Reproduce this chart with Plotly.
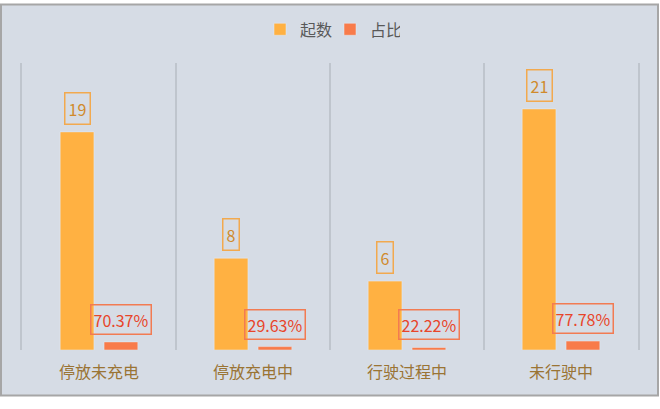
import plotly.graph_objects as go

# data
categories = ['停放未充电', '停放充电中', '行驶过程中', '未行驶中']
counts = [19, 8, 6, 21]
ratios = [0.7037, 0.2963, 0.2222, 0.7778]
ratio_labels = ['70.37%', '29.63%', '22.22%', '77.78%']

W, H = 660, 409
ml, mr, mt, mb = 22, 22, 60, 59
pw, ph = W - ml - mr, H - mt - mb
grid = '#BFC5CD'

fig = go.Figure()
fig.add_bar(x=categories, y=counts, name='起数', marker_color='#FFB142')
fig.add_bar(x=categories, y=ratios, name='占比', marker_color='#F87B4A')

# boxed value labels
for i, v in enumerate(counts):
    fig.add_annotation(x=i, y=v, xshift=-22, yshift=7, yanchor='bottom',
                       text=str(v), showarrow=False,
                       font=dict(size=16, color='#D08A2C'),
                       bordercolor='#F2A94E', borderwidth=1.5, borderpad=3)
for i, v in enumerate(ratios):
    fig.add_annotation(x=i, y=v, xshift=22, yshift=7, yanchor='bottom',
                       text=ratio_labels[i], showarrow=False,
                       font=dict(size=16, color='#E8452A'),
                       bordercolor='#F27B52', borderwidth=1.5, borderpad=2)

# chart area background + border
fig.add_shape(type='rect', xref='paper', yref='paper', layer='below',
              x0=-(ml - 1) / pw, x1=(W - ml - 2) / pw,
              y0=(H - mb - 396) / ph, y1=(H - mb - 1) / ph,
              fillcolor='#D6DCE5', line=dict(color='#A6A6A6', width=2))

fig.update_layout(
    width=W, height=H,
    margin=dict(l=ml, r=mr, t=mt, b=mb),
    paper_bgcolor='white', plot_bgcolor='rgba(0,0,0,0)',
    barmode='group', bargap=0.43, bargroupgap=0.23,
    font=dict(family='Noto Sans CJK SC, sans-serif'),
    showlegend=True,
    legend=dict(orientation='h', x=0.5, xanchor='center',
                y=(H - mb - 26) / ph, yanchor='middle',
                font=dict(size=16, color='#595959'),
                itemwidth=30, entrywidth=25, tracegroupgap=0,
                bgcolor='rgba(0,0,0,0)'),
)
fig.update_xaxes(type='category', tickson='boundaries', showgrid=True,
                 gridcolor=grid, gridwidth=1.5, ticks='',
                 showline=False, zeroline=False, ticklabelstandoff=11,
                 tickfont=dict(size=16, color='#9A7434'))
# y axis hidden, its mirrored line gives the outer vertical separators
fig.update_yaxes(range=[0, 25], showgrid=False, zeroline=False,
                 showticklabels=False, ticks='', showline=True, mirror=True,
                 linecolor=grid, linewidth=1.5)

fig.write_html('out.html', config={'displayModeBar': False},
               post_script="document.body.style.margin='0';")
